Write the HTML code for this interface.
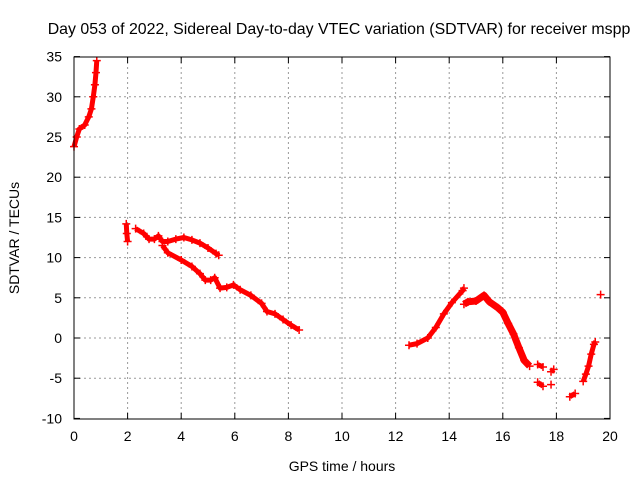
<!DOCTYPE html>
<html><head><meta charset="utf-8"><style>
body{margin:0;background:#fff;}
svg text{font-family:"Liberation Sans",sans-serif;font-size:14px;fill:#000;}
</style></head><body>
<svg id="chart" width="640" height="480">
<text x="339" y="34" text-anchor="middle" style="font-size:15.9px">Day 053 of 2022, Sidereal Day-to-day VTEC variation (SDTVAR) for receiver mspp</text>
<text x="342" y="471" text-anchor="middle">GPS time / hours</text>
<text transform="translate(19,238) rotate(-90)" text-anchor="middle">SDTVAR / TECUs</text>
<g id="grid"></g><g id="marks"></g>
<rect x="74" y="57" width="536" height="362" fill="none" stroke="#000" stroke-width="1"/>
</svg>
<script>
const xTicks=[0,2,4,6,8,10,12,14,16,18,20];
const yTicks=[-10,-5,0,5,10,15,20,25,30,35];
const seg1=[[0,23.8],[0.1,25],[0.2,26],[0.4,26.5],[0.55,27.5],[0.65,28.5],[0.72,30],[0.78,31.5],[0.82,33],[0.85,34.5]];
const seg2=[[1.95,14.2],[1.97,13],[2.0,12]];
const seg3=[[2.3,13.6],[2.6,13],[2.8,12.3],[3.0,12.3],[3.15,12.7],[3.3,12],[3.5,12],[3.8,12.3],[4.1,12.5],[4.4,12.2],[4.7,11.8],[5.0,11.2],[5.3,10.5],[5.4,10.3]];
const seg4=[[3.3,11.5],[3.5,10.6],[4.0,9.7],[4.4,8.9],[4.7,8],[4.9,7.2],[5.1,7.2],[5.25,7.5],[5.45,6.2],[5.7,6.3],[5.95,6.6],[6.2,6],[6.6,5.3],[7.0,4.3],[7.2,3.3],[7.5,3],[7.8,2.3],[8.1,1.6],[8.4,1]];
const seg5=[[12.5,-0.9],[12.8,-0.7],[13.2,0],[13.5,1.3],[13.8,3],[14.1,4.4],[14.5,5.9],[14.55,6.2]];
const seg6=[[14.55,4.2],[14.7,4.5],[15.0,4.6],[15.3,5.3],[15.5,4.5],[15.8,3.8],[16.0,3.2],[16.2,1.8],[16.4,0.5],[16.6,-1.2],[16.8,-2.8],[17.0,-3.5]];
const seg7=[[17.3,-3.3],[17.5,-3.6]];
const seg8=[[17.3,-5.5],[17.5,-6]];
const seg9=[[17.8,-4.2],[17.9,-3.9]];
const seg10=[[17.8,-5.8]];
const seg11=[[18.5,-7.3],[18.7,-6.9]];
const seg12=[[19.0,-5.4],[19.1,-4.5],[19.2,-3.5],[19.3,-2],[19.4,-0.8],[19.45,-0.5]];
const seg13=[[19.65,5.4]];
const segments=[seg1,seg2,seg3,seg4,seg5,seg6,seg7,seg8,seg9,seg10,seg11,seg12,seg13];
const NS="http://www.w3.org/2000/svg";
function X(h){return 74+h*26.8;}
function Y(v){return 338-v*8.04;}
const grid=document.getElementById('grid'),marks=document.getElementById('marks');
function mk(t,a,p){const e=document.createElementNS(NS,t);for(const k in a)e.setAttribute(k,a[k]);p.appendChild(e);return e;}
xTicks.forEach(t=>{const x=X(t);
 if(t>0&&t<20){const g=mk('line',{x1:x,x2:x,y1:57,y2:419,stroke:'#999','stroke-dasharray':'2,3'},grid);
 
 }
 mk('line',{x1:x,x2:x,y1:419,y2:413,stroke:'#000'},grid);mk('line',{x1:x,x2:x,y1:57,y2:63,stroke:'#000'},grid);
 const l=mk('text',{x:x,y:441,'text-anchor':'middle'},grid);l.textContent=t;
 
 });
yTicks.forEach(t=>{const y=Y(t);
 if(t>-10&&t<35){const g=mk('line',{x1:74,x2:610,y1:y,y2:y,stroke:'#999','stroke-dasharray':'2,3'},grid);
 
 }
 mk('line',{x1:74,x2:80,y1:y,y2:y,stroke:'#000'},grid);mk('line',{x1:604,x2:610,y1:y,y2:y,stroke:'#000'},grid);
 const l=mk('text',{x:62,y:y+5,'text-anchor':'end'},grid);l.textContent=t;
 
 });
segments.forEach(s=>{
 if(s.length>1){const p=mk('polyline',{points:s.map(d=>X(d[0])+','+Y(d[1])).join(' '),fill:'none',stroke:'#f00','stroke-width':(s===seg6?7:5),'stroke-linejoin':'round'},marks);
 
 }
 s.forEach(d=>{const x=X(d[0]),y=Y(d[1]);
  const g=mk('path',{d:`M${x-4},${y}H${x+4}M${x},${y-4}V${y+4}`,stroke:'#f00','stroke-width':1.5},marks);
  
  });
});
</script>
</body></html>
